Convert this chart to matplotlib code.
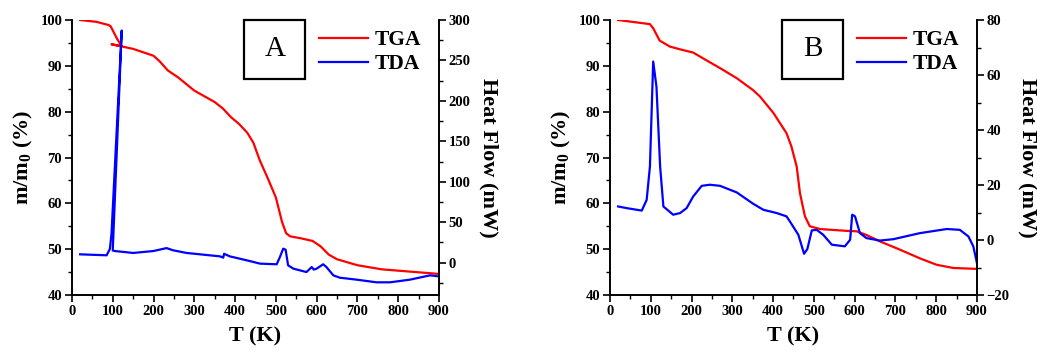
import matplotlib.pyplot as plt
from matplotlib.patches import Rectangle
from matplotlib.ticker import MultipleLocator

plt.rcParams['font.family'] = ['Liberation Serif', 'DejaVu Serif']
plt.rcParams['font.weight'] = 'bold'
plt.rcParams['mathtext.fontset'] = 'custom'
plt.rcParams['mathtext.rm'] = 'Liberation Serif:bold'
plt.rcParams['mathtext.bf'] = 'Liberation Serif:bold'
plt.rcParams['mathtext.it'] = 'Liberation Serif:bold'

# panel A
tA_tga = [20, 60, 90, 95, 110, 122, 97, 150, 200, 215, 235, 260, 300, 350, 370, 390, 410, 430, 445,
          460, 480, 500, 515, 525, 535, 560, 590, 610, 630, 650, 700, 760, 830, 900]
tga_A = [100, 99.6, 98.9, 98.6, 96, 94.3, 94.7, 93.7, 92.2, 91, 89, 87.5, 84.6, 82.1, 80.7, 78.8, 77.3,
         75.4, 73.2, 69.5, 65.5, 61.3, 56, 53.5, 52.8, 52.4, 51.8, 50.6, 48.8, 47.8, 46.5, 45.6, 45.1, 44.6]
tA_tda = [20, 85, 93, 97, 122, 100, 105, 150, 200, 232, 248, 281, 363, 371, 373, 387, 436, 461, 502,
          510, 518, 524, 530, 543, 575, 588, 593, 600, 616, 624, 641, 657, 698, 747, 780, 829, 878, 900]
tda_A = [10.3, 9.1, 17, 36, 287, 15, 14.4, 12, 14.4, 18, 15.3, 12, 7.8, 6.2, 11, 7.8, 2, -1.2, -2,
         7, 17.3, 16, -3.3, -7.4, -11.6, -5.4, -8.6, -7.4, -2, -5.4, -15.7, -18.6, -21, -24.3, -24.3,
         -21, -15.7, -17]

# panel B
tB_tga = [20, 98, 106, 122, 147, 172, 204, 229, 270, 311, 351, 368, 401, 433, 445, 458, 466, 478,
          490, 515, 580, 605, 629, 662, 711, 760, 801, 842, 900]
tga_B = [100, 99.1, 98.2, 95.5, 94.2, 93.6, 92.9, 91.6, 89.5, 87.3, 84.7, 83.3, 79.7, 75.3, 72.4,
         68, 62.2, 57.2, 55, 54.4, 54, 53.9, 53.1, 51.7, 49.9, 48, 46.6, 45.9, 45.7]
tB_tda = [20, 41, 78, 90, 98, 106, 114, 123, 131, 155, 172, 188, 204, 225, 245, 270, 311, 351, 376,
          409, 433, 441, 462, 476, 484, 495, 507, 523, 544, 576, 589, 594, 601, 613, 629, 662, 695,
          760, 826, 858, 879, 891, 900]
tda_B = [12.2, 11.6, 10.7, 14.6, 26.7, 64.9, 55.8, 26.8, 12.2, 9.2, 9.8, 11.6, 15.8, 19.7, 20.1,
         19.7, 17.3, 13.2, 11, 9.8, 8.6, 6.8, 1.9, -5, -3.3, 3.5, 3.7, 1.9, -1.7, -2.3, 0.1, 9.2,
         8.6, 2.5, 0.7, -0.2, 0.3, 2.5, 4, 3.7, 1.3, -2.3, -8.4]

panels = [
    ('A', tA_tga, tga_A, tA_tda, tda_A, (-40, 300), 50, 25, 0.0694),
    ('B', tB_tga, tga_B, tB_tda, tda_B, (-20, 80), 20, 10, 0.5882),
]

fig = plt.figure(figsize=(10.37, 3.51), dpi=100)

for name, t1, y1, t2, y2, rlim, rmaj, rmin, left in panels:
    ax = fig.add_axes([left, 0.1595, 0.3539, 0.7835])
    ax2 = ax.twinx()
    l1, = ax.plot(t1, y1, color='#ff0000', lw=1.6)
    l2, = ax2.plot(t2, y2, color='#0000ff', lw=1.6)
    ax.set_xlim(0, 900)
    ax.set_ylim(40, 100)
    ax2.set_ylim(*rlim)
    ax.xaxis.set_major_locator(MultipleLocator(100))
    ax.xaxis.set_minor_locator(MultipleLocator(50))
    ax.yaxis.set_major_locator(MultipleLocator(10))
    ax.yaxis.set_minor_locator(MultipleLocator(5))
    ax2.yaxis.set_major_locator(MultipleLocator(rmaj))
    ax2.yaxis.set_minor_locator(MultipleLocator(rmin))
    for a in (ax, ax2):
        a.spines['top'].set_visible(False)
        for s in a.spines.values():
            s.set_linewidth(1.2)
        a.tick_params(which='major', direction='out', length=5, width=1.2, labelsize=10.5, pad=2)
        a.tick_params(which='minor', direction='out', length=3, width=1.0)
    ax.set_xlabel('T (K)', fontsize=16, fontweight='bold', labelpad=6)
    ax.set_ylabel('m/m$_\\mathrm{0}$ (%)', fontsize=16, fontweight='bold', labelpad=4)
    ax2.set_ylabel('Heat Flow (mW)', fontsize=16, fontweight='bold', rotation=270, labelpad=20)

    ax.add_patch(Rectangle((0.47, 0.785), 0.165, 0.215, transform=ax.transAxes,
                           fill=False, lw=1.6, edgecolor='black', clip_on=False))
    ax.text(0.5525, 0.895, name, transform=ax.transAxes, fontsize=21, fontweight='normal',
            ha='center', va='center')
    ax2.legend([l1, l2], ['TGA', 'TDA'], loc='upper right', bbox_to_anchor=(0.975, 0.995),
               frameon=False, fontsize=15.5, handlelength=2.3, handletextpad=0.3,
               labelspacing=0.2, borderaxespad=0.2, borderpad=0.2)

fig.savefig('out.png', dpi=100)
